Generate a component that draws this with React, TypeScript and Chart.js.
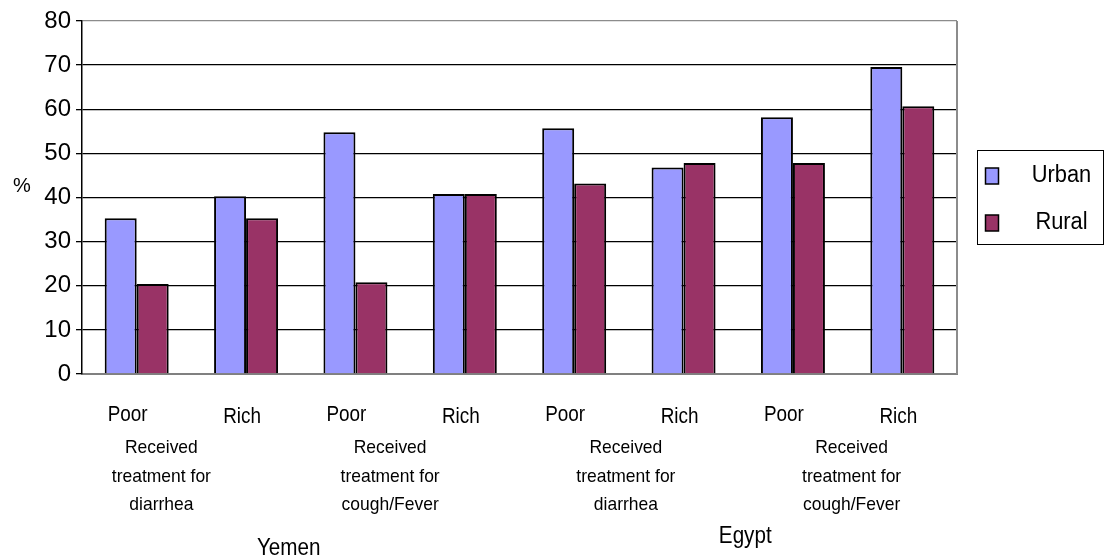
import React, { useEffect, useRef } from "react";
import { Chart, registerables } from "chart.js";

Chart.register(...registerables);

// Income groups along the x axis
const incomeLabels = ["Poor", "Rich", "Poor", "Rich", "Poor", "Rich", "Poor", "Rich"];
// Indicator captions, one per pair of income groups
const indicatorLabels = [
  ["Received", "treatment for", "diarrhea"],
  ["Received", "treatment for", "cough/Fever"],
  ["Received", "treatment for", "diarrhea"],
  ["Received", "treatment for", "cough/Fever"],
];
// Countries, one per four income groups
const countryLabels = ["Yemen", "Egypt"];

// Percentages by residence
const urbanValues = [35.3, 40.3, 54.8, 40.8, 55.7, 46.8, 58.2, 69.6];
const ruralValues = [20.4, 35.3, 20.8, 40.8, 43.2, 47.8, 47.8, 60.7];

const yMin = 0;
const yMax = 80;
const yStep = 10;

const FONT = "'Liberation Sans', Arial, Helvetica, sans-serif";

// Layout tweaks for the hand-placed category captions
const incomeShift = { Poor: -9, Rich: -4 };
const incomeBaseline = { Poor: 47, Rich: 49 };
const indicatorShift = [-30, -20, -3, 4];
const countryShift = [-12, 7];
const countryBaseline = [181, 169];

// Narrow text: draw centred text squeezed horizontally
function squeezed(ctx: CanvasRenderingContext2D, text: string, x: number, y: number, sx: number) {
  ctx.save();
  ctx.translate(x, y);
  ctx.scale(sx, 1);
  ctx.fillText(text, 0, 0);
  ctx.restore();
}

const captionsPlugin = {
  id: "captions",
  afterDraw(chart: any) {
    const { ctx, chartArea } = chart;
    const xs = chart.scales.x;
    const px = (i: number) => xs.getPixelForValue(i);
    ctx.save();
    ctx.fillStyle = "#000";
    ctx.textAlign = "center";
    ctx.textBaseline = "alphabetic";

    // plot frame on the right
    ctx.strokeStyle = "#8c8c8c";
    ctx.lineWidth = 2;
    ctx.beginPath();
    ctx.moveTo(chartArea.right, chartArea.top);
    ctx.lineTo(chartArea.right, chartArea.bottom);
    ctx.stroke();

    // income row
    ctx.font = `22px ${FONT}`;
    incomeLabels.forEach((lab, i) => {
      const s = (incomeShift as any)[lab] ?? 0;
      const b = (incomeBaseline as any)[lab] ?? 47;
      squeezed(ctx, lab, px(i) + s, chartArea.bottom + b, 0.86);
    });

    // indicator captions
    ctx.font = `19px ${FONT}`;
    indicatorLabels.forEach((lines, g) => {
      const cx = (px(2 * g) + px(2 * g + 1)) / 2 + indicatorShift[g];
      lines.forEach((line, k) => {
        squeezed(ctx, line, cx, chartArea.bottom + 79 + k * 28.5, 0.92);
      });
    });

    // countries
    ctx.font = `24px ${FONT}`;
    countryLabels.forEach((lab, c) => {
      const cx = (px(4 * c) + px(4 * c + 3)) / 2 + countryShift[c];
      squeezed(ctx, lab, cx, chartArea.bottom + countryBaseline[c], 0.86);
    });

    // y axis title
    ctx.font = `20px ${FONT}`;
    squeezed(ctx, "%", 22, (chartArea.top + chartArea.bottom) / 2 - 6, 1);

    // legend
    const lx = 977.5;
    const ly = 150.5;
    const lw = 126;
    const lh = 94;
    ctx.strokeStyle = "#000";
    ctx.lineWidth = 1;
    ctx.strokeRect(lx, ly, lw, lh);
    ctx.font = `23px ${FONT}`;
    chart.data.datasets.forEach((ds: any, i: number) => {
      const my = ly + 17.5 + i * 47;
      ctx.fillStyle = ds.backgroundColor;
      ctx.fillRect(lx + 8, my, 13, 16);
      ctx.strokeStyle = "#000";
      ctx.lineWidth = 1.5;
      ctx.strokeRect(lx + 8, my, 13, 16);
      ctx.fillStyle = "#000";
      squeezed(ctx, ds.label, lx + 84, my + 14, 0.95);
    });
    ctx.restore();
  },
};

export default function App() {
  const canvasRef = useRef<HTMLCanvasElement | null>(null);

  useEffect(() => {
    if (!canvasRef.current) return;
    const chart = new Chart(canvasRef.current, {
      type: "bar",
      data: {
        labels: incomeLabels,
        datasets: [
          {
            label: "Urban",
            data: urbanValues,
            backgroundColor: "#9999FF",
            borderColor: "#000",
            borderWidth: 2,
          },
          {
            label: "Rural",
            data: ruralValues,
            backgroundColor: "#993366",
            borderColor: "#000",
            borderWidth: 2,
          },
        ],
      },
      options: {
        animation: false,
        responsive: true,
        maintainAspectRatio: false,
        layout: { padding: { top: 21, right: 148, left: 0, bottom: 0 } },
        datasets: {
          bar: { categoryPercentage: 0.585, barPercentage: 1.0 },
        },
        plugins: {
          legend: { display: false },
          tooltip: { enabled: false },
        },
        scales: {
          x: {
            ticks: { display: false },
            grid: { display: false },
            border: { display: true, color: "#808080", width: 2 },
            afterFit: (scale: any) => {
              scale.height = 183;
            },
          },
          y: {
            min: yMin,
            max: yMax,
            ticks: {
              stepSize: yStep,
              padding: 5,
              color: "#000",
              font: { family: FONT, size: 24 },
            },
            grid: {
              color: (c: any) =>
                c.tick && (c.tick.value === yMax || c.tick.value === yMin) ? "#8c8c8c" : "#000",
              lineWidth: 1.3,
              tickLength: 6,
              tickColor: "#000",
              drawTicks: true,
            },
            border: { display: true, color: "#000", width: 1.5 },
            afterFit: (scale: any) => {
              scale.width = 82;
            },
          },
        },
      },
      plugins: [captionsPlugin],
    });
    return () => chart.destroy();
  }, []);

  return (
    <div style={{ position: "fixed", left: 0, top: 0, width: 1105, height: 557, background: "#fff" }}>
      <canvas ref={canvasRef} />
    </div>
  );
}
